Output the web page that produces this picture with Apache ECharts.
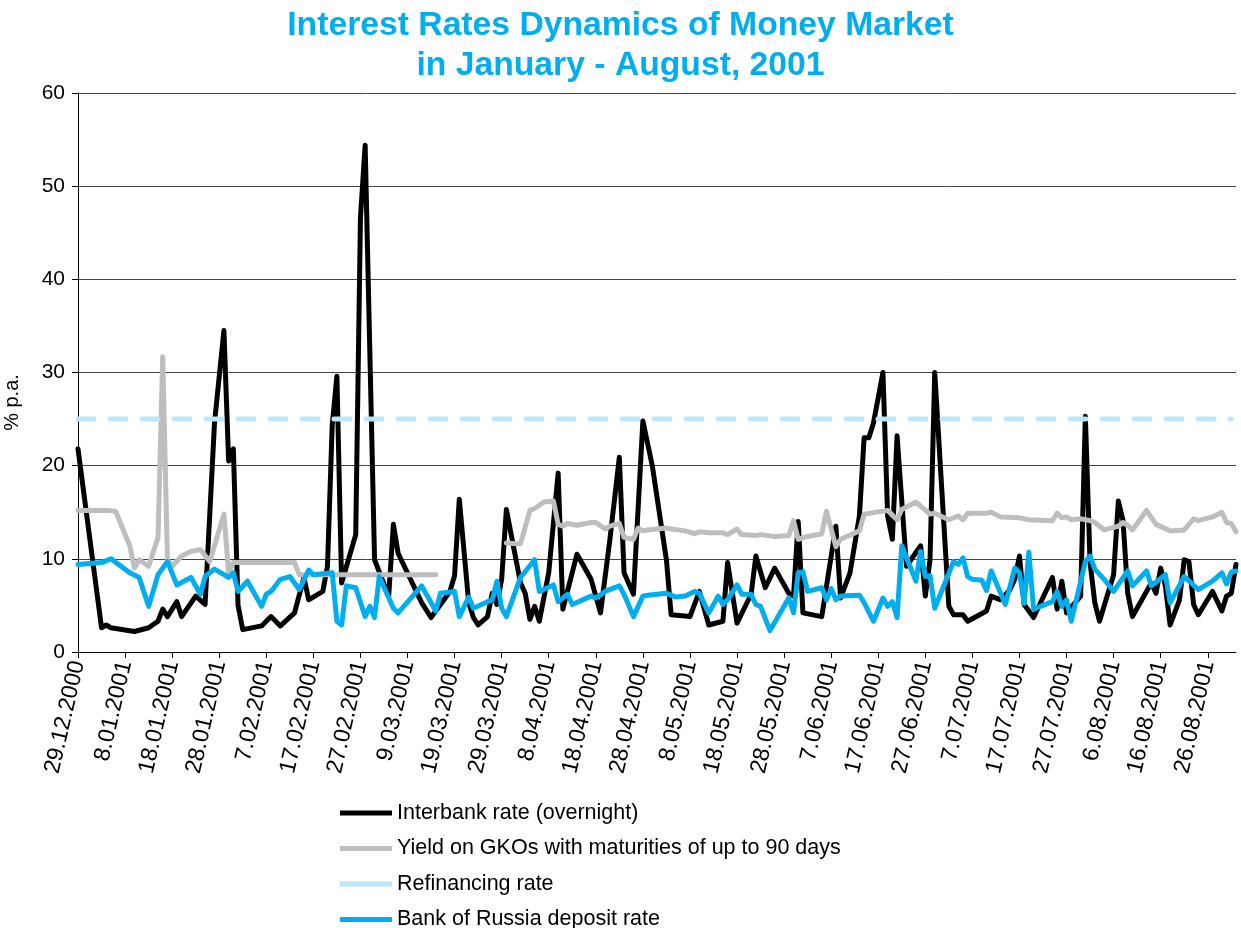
<!DOCTYPE html>
<html>
<head>
<meta charset="utf-8">
<script src="https://cdn.jsdelivr.net/npm/echarts@6/dist/echarts.min.js"></script>
<style>
  html, body { margin: 0; padding: 0; background: #fff; }
  #chart { width: 1241px; height: 928px; }
</style>
</head>
<body>
<div id="chart"></div>
<script>
// calendar days from 29.12.2000 to 1.09.2001, one category per day
const startDay = new Date(2000, 11, 29)
const dayCount = 247
const days = []
for (let i = 0; i < dayCount; i++) {
  const d = new Date(startDay.getFullYear(), startDay.getMonth(), startDay.getDate() + i)
  days.push(d.getDate() + '.' + String(d.getMonth() + 1).padStart(2, '0') + '.' + d.getFullYear())
}

const yTicks = [0, 10, 20, 30, 40, 50, 60]

// [day number since 29.12.2000, % p.a.]
const interbank = [
  [0, 21.8], [5, 2.6], [6, 2.9], [7, 2.6], [12, 2.2], [15, 2.6], [17, 3.3], [18, 4.6], [19, 3.8],
  [21, 5.4], [22, 3.8], [25, 6.0], [27, 5.1], [29, 24.6], [31, 34.5], [32, 20.5], [33, 21.8],
  [34, 5.0], [35, 2.4], [39, 2.8], [41, 3.8], [43, 2.8], [46, 4.2], [48, 8.0], [49, 5.6],
  [52, 6.5], [53, 9.2], [54, 24.3], [55, 29.6], [56, 7.4], [59, 12.6], [60, 46.6], [61, 54.4],
  [63, 9.9], [66, 6.0], [67, 13.7], [68, 10.6], [73, 5.3], [75, 3.7], [79, 6.5], [80, 8.2],
  [81, 16.4], [83, 5.3], [84, 3.7], [85, 2.9], [87, 3.8], [88, 6.3], [89, 5.1], [90, 7.8],
  [91, 15.3], [94, 7.4], [95, 6.3], [96, 3.5], [97, 4.9], [98, 3.3], [100, 8.5], [102, 19.2],
  [103, 4.6], [106, 10.5], [109, 7.8], [110, 6.0], [111, 4.2], [113, 12.1], [115, 20.9],
  [116, 8.5], [118, 6.2], [120, 24.8], [122, 20.0], [125, 9.9], [126, 4.0], [130, 3.8],
  [132, 6.5], [134, 2.9], [137, 3.3], [138, 9.6], [140, 3.1], [143, 6.2], [144, 10.3],
  [146, 6.9], [148, 9.0], [151, 6.3], [152, 6.0], [153, 14.0], [154, 4.2], [158, 3.8],
  [161, 13.5], [162, 5.8], [164, 8.5], [166, 14.6], [167, 23.0], [168, 23.0], [169, 24.6],
  [171, 30.0], [172, 14.6], [173, 12.1], [174, 23.2], [176, 9.2], [179, 11.4], [180, 6.0],
  [181, 9.9], [182, 30.0], [185, 4.9], [186, 4.0], [188, 4.0], [189, 3.3], [193, 4.4],
  [194, 6.0], [196, 5.6], [198, 6.7], [199, 7.8], [200, 10.3], [201, 5.1], [203, 3.7],
  [207, 8.0], [208, 4.6], [209, 7.6], [210, 4.2], [213, 6.0], [214, 25.3], [215, 9.6],
  [216, 5.3], [217, 3.3], [220, 8.3], [221, 16.2], [222, 14.1], [223, 6.3], [224, 3.8],
  [228, 7.4], [229, 6.3], [230, 9.0], [231, 7.1], [232, 2.9], [234, 5.6], [235, 9.9],
  [236, 9.7], [237, 5.1], [238, 4.0], [241, 6.5], [243, 4.4], [244, 6.0], [245, 6.3], [246, 9.4]
]

const gko = [
  [0, 15.2], [6, 15.2], [8, 15.1], [11, 11.4], [12, 9.0], [13, 9.9], [15, 9.2], [17, 12.3],
  [18, 31.7], [19, 9.9], [20, 9.2], [22, 10.3], [24, 10.8], [26, 11.0], [28, 9.7], [31, 14.8],
  [32, 8.5], [33, 9.6], [40, 9.6], [46, 9.6], [47, 8.3], [60, 8.3], [76, 8.3],
  [83, '-'],
  [91, 11.7], [94, 11.6], [96, 15.2], [97, 15.4], [99, 16.1], [101, 16.2], [102, 13.7],
  [103, 13.5], [104, 13.8], [106, 13.6], [109, 13.9], [110, 13.9], [112, 13.2], [113, 13.5],
  [115, 13.8], [116, 12.3], [118, 12.1], [119, 13.3], [120, 13.0], [121, 13.1], [125, 13.3],
  [126, 13.2], [129, 13.0], [131, 12.7], [132, 12.9], [134, 12.8], [137, 12.8], [138, 12.6],
  [140, 13.2], [141, 12.6], [144, 12.5], [145, 12.6], [148, 12.4], [151, 12.5], [152, 14.1],
  [153, 12.1], [155, 12.4], [158, 12.7], [159, 15.1], [161, 11.3], [162, 12.1], [166, 13.0],
  [167, 14.8], [172, 15.2], [174, 14.2], [175, 15.3], [178, 16.1], [181, 14.8], [182, 14.9],
  [185, 14.2], [187, 14.6], [188, 14.2], [189, 14.9], [193, 14.9], [194, 15.0], [196, 14.5],
  [200, 14.4], [202, 14.2], [207, 14.1], [208, 14.9], [209, 14.4], [210, 14.5], [211, 14.2],
  [213, 14.3], [215, 14.1], [216, 13.9], [218, 13.1], [221, 13.5], [222, 13.9], [223, 13.6],
  [224, 13.1], [227, 15.2], [229, 13.7], [232, 13.0], [235, 13.1], [237, 14.3], [238, 14.1],
  [241, 14.5], [243, 15.0], [244, 13.9], [245, 13.8], [246, 12.9]
]

const refinancing = [[0, 25], [245, 25]]

const deposit = [
  [0, 9.4], [5, 9.6], [7, 10.0], [11, 8.5], [13, 8.0], [15, 4.9], [17, 8.3], [19, 9.7],
  [21, 7.2], [24, 8.0], [26, 6.2], [27, 8.1], [29, 8.9], [32, 8.0], [33, 8.5], [34, 6.5],
  [36, 7.6], [39, 4.9], [40, 6.2], [41, 6.5], [43, 7.8], [45, 8.1], [47, 6.7], [49, 8.8],
  [50, 8.3], [54, 8.5], [55, 3.3], [56, 2.9], [57, 7.1], [59, 6.9], [61, 3.8], [62, 4.9],
  [63, 3.7], [64, 8.1], [67, 4.7], [68, 4.2], [73, 7.1], [74, 6.2], [76, 4.4], [77, 6.3],
  [80, 6.5], [81, 3.8], [83, 5.9], [84, 4.7], [87, 5.4], [88, 5.6], [89, 7.6], [90, 4.7],
  [91, 3.8], [94, 8.0], [97, 9.9], [98, 6.5], [101, 7.2], [102, 5.4], [104, 6.2], [105, 5.1],
  [109, 6.0], [110, 5.8], [112, 6.5], [115, 7.1], [116, 6.2], [118, 3.8], [120, 6.0],
  [121, 6.1], [125, 6.3], [127, 5.9], [129, 6.0], [131, 6.5], [132, 6.3], [134, 4.2],
  [136, 6.0], [137, 5.1], [138, 5.6], [140, 7.2], [141, 6.2], [143, 6.2], [144, 5.1],
  [145, 4.9], [147, 2.3], [151, 5.8], [152, 4.2], [153, 8.5], [154, 8.6], [155, 6.5],
  [158, 6.9], [159, 5.6], [160, 6.8], [161, 5.6], [162, 6.0], [166, 6.1], [167, 5.3],
  [169, 3.3], [171, 5.8], [172, 4.9], [173, 5.4], [174, 3.7], [175, 11.4], [178, 7.6],
  [179, 10.8], [180, 8.1], [181, 8.2], [182, 4.7], [186, 9.7], [187, 9.4], [188, 10.1],
  [189, 8.1], [190, 7.8], [192, 7.7], [193, 6.6], [194, 8.7], [197, 5.1], [199, 9.0],
  [200, 8.5], [201, 5.2], [202, 10.7], [203, 4.6], [207, 5.4], [208, 6.5], [209, 4.9],
  [210, 5.6], [211, 3.3], [214, 9.7], [215, 10.3], [216, 8.9], [218, 7.8], [220, 6.5],
  [223, 8.7], [224, 7.1], [227, 8.7], [228, 7.1], [231, 8.3], [232, 5.3], [235, 8.1],
  [238, 6.7], [241, 7.6], [243, 8.5], [244, 7.3], [245, 8.6], [246, 8.7]
]

const font = '"Liberation Sans", Arial, Helvetica, sans-serif'

const chart = echarts.init(document.getElementById('chart'))

function lineSeries(name, data, color, extra) {
  return Object.assign({
    name: name,
    type: 'line',
    data: data,
    symbol: 'none',
    animation: false,
    lineStyle: { color: color, width: 5, join: 'round', cap: 'round' },
    itemStyle: { color: color }
  }, extra || {})
}

chart.setOption({
  backgroundColor: '#fff',
  title: {
    text: 'Interest Rates Dynamics of Money Market\nin January - August, 2001',
    left: 'center',
    top: 1,
    textStyle: { fontFamily: font, fontSize: 33.7, fontWeight: 'bold', color: '#00AEEF', lineHeight: 40 }
  },
  grid: { left: 78, right: 5, top: 93, bottom: 276, containLabel: false, outerBoundsMode: 'none' },
  legend: {
    orient: 'vertical',
    left: 340,
    top: 802,
    height: 140,
    padding: 0,
    icon: 'rect',
    itemWidth: 52,
    itemHeight: 5,
    itemGap: 13.5,
    textStyle: { fontFamily: font, fontSize: 21.5, color: '#000' },
    data: ['Interbank rate (overnight)', 'Yield on GKOs with maturities of up to 90 days',
      'Refinancing rate', 'Bank of Russia deposit rate']
  },
  xAxis: {
    type: 'category',
    data: days,
    boundaryGap: false,
    axisLine: { lineStyle: { color: '#000', width: 1 } },
    axisTick: { interval: 9, length: 6, lineStyle: { color: '#000' } },
    axisLabel: {
      interval: 9,
      rotate: 77,
      margin: 9,
      fontFamily: font,
      fontSize: 23,
      color: '#000'
    },
    splitLine: { show: false }
  },
  yAxis: {
    type: 'value',
    min: yTicks[0],
    max: yTicks[yTicks.length - 1],
    interval: 10,
    name: '% p.a.',
    nameLocation: 'middle',
    nameGap: 56,
    nameTextStyle: { fontFamily: font, fontSize: 20, color: '#000', padding: [0, 60, 0, 0] },
    axisLine: { show: true, lineStyle: { color: '#000', width: 1 } },
    axisTick: { show: true, length: 6, lineStyle: { color: '#000' } },
    axisLabel: { fontFamily: font, fontSize: 21, color: '#000', margin: 13 },
    splitLine: { lineStyle: { color: '#444', width: 1 } }
  },
  series: [
    lineSeries('Interbank rate (overnight)', interbank, '#000000'),
    lineSeries('Yield on GKOs with maturities of up to 90 days', gko, '#BEBEBE'),
    lineSeries('Refinancing rate', refinancing, '#BCE6FA', {
      lineStyle: { color: '#BCE6FA', width: 5, type: [16, 16], cap: 'round' }
    }),
    lineSeries('Bank of Russia deposit rate', deposit, '#00AEEF')
  ]
})
</script>
</body>
</html>
